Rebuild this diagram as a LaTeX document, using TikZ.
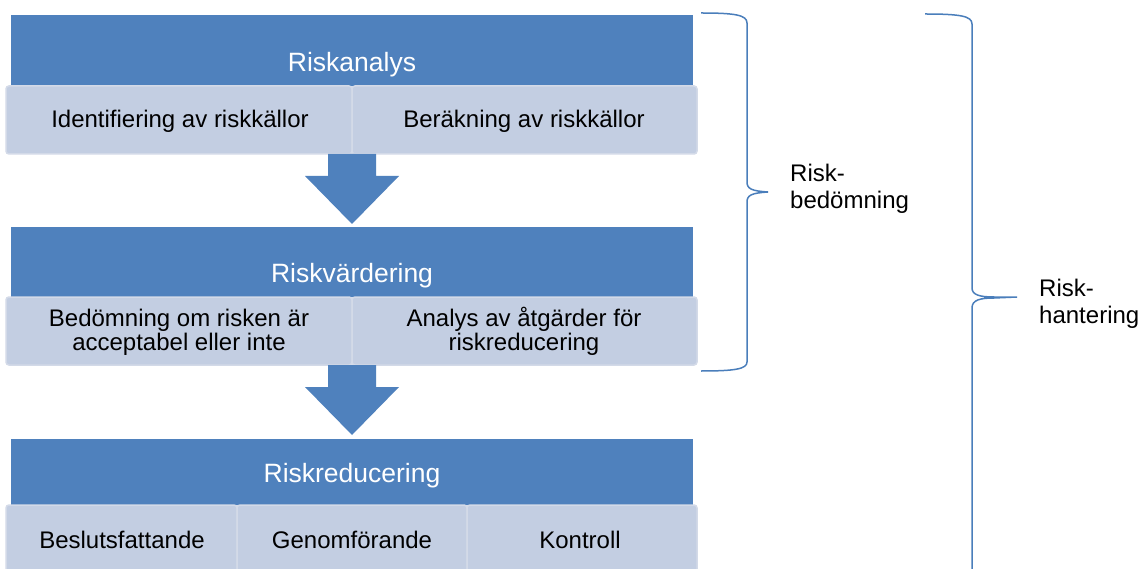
\documentclass[tikz,border=0pt]{standalone}
\usepackage{fontspec}
\setmainfont{Liberation Sans}
\definecolor{dkblue}{HTML}{4F81BD}
\definecolor{ltfill}{HTML}{C3CEE2}
\definecolor{ltline}{HTML}{D3DAE8}
\definecolor{bracecol}{HTML}{4A7EBB}
\begin{document}
\begin{tikzpicture}[x=1pt,y=-1pt,
  band/.style={fill=dkblue, draw=none, inner sep=0, outer sep=0, anchor=north west},
  subbox/.style={fill=ltfill, draw=ltline, line width=1.5pt, rounded corners=3pt, inner sep=0, outer sep=0, anchor=north west, minimum height=68pt},
  titletxt/.style={text=white, font=\fontsize{26.5}{30}\selectfont, anchor=base, inner sep=0},
  subtxt/.style={text=black, font=\fontsize{24}{23.5}\selectfont, anchor=base, inner sep=0, align=center},
  sidetxt/.style={text=black, font=\fontsize{24}{27}\selectfont, anchor=base west, inner sep=0, align=left},
  blockarrow/.style={fill=dkblue, draw=none},
  bracepath/.style={draw=bracecol, line width=1.5pt}
]
\useasboundingbox (0,0) rectangle (1140,569);
\fill[white] (0,0) rectangle (1140,569);

% Stage 1
\node[band, minimum width=682pt, minimum height=71pt] (b1) at (11,15) {};
\node[subbox, minimum width=346pt] (s11) at (6,86) {};
\node[subbox, minimum width=345pt] (s12) at (352,86) {};
\node[titletxt] (t1) at (352,72) {Riskanalys};
\node[subtxt] (u11) at (180,128) {Identifiering av riskkällor};
\node[subtxt] (u12) at (524,128) {Beräkning av riskkällor};

% Arrow 1
\fill[blockarrow] (328,154) -- (376,154) -- (376,176) -- (399,176) -- (352,224) -- (305,176) -- (328,176) -- cycle;

% Stage 2
\node[band, minimum width=682pt, minimum height=70pt] (b2) at (11,227) {};
\node[subbox, minimum width=346pt] (s21) at (6,297) {};
\node[subbox, minimum width=345pt] (s22) at (352,297) {};
\node[titletxt] (t2) at (352,283) {Riskvärdering};
\node[subtxt] (u21) at (179,350) {Bedömning om risken är\\acceptabel eller inte};
\node[subtxt] (u22) at (524,350) {Analys av åtgärder för\\riskreducering};

% Arrow 2
\fill[blockarrow] (328,365) -- (376,365) -- (376,387) -- (399,387) -- (352,435) -- (305,387) -- (328,387) -- cycle;

% Stage 3
\node[band, minimum width=682pt, minimum height=66pt] (b3) at (11,439) {};
\node[subbox, minimum width=231pt, minimum height=80pt] (s31) at (6,505) {};
\node[subbox, minimum width=230pt, minimum height=80pt] (s32) at (237,505) {};
\node[subbox, minimum width=230pt, minimum height=80pt] (s33) at (467,505) {};
\node[titletxt] (t3) at (352,482) {Riskreducering};
\node[subtxt] (u31) at (122,548) {Beslutsfattande};
\node[subtxt] (u32) at (352,548) {Genomförande};
\node[subtxt] (u33) at (580,548) {Kontroll};

% Brace 1
\draw[bracepath] (701,13) .. controls (735,13) and (747,15) .. (747,23)
  -- (747,182) .. controls (747,189) and (752,191) .. (768,192)
  .. controls (752,193) and (747,195) .. (747,202)
  -- (747,362) .. controls (747,369) and (735,371) .. (701,371);
\node[sidetxt] (l1) at (790,209) {Risk-\\bedömning};

% Brace 2
\draw[bracepath] (925,14) .. controls (960,14) and (972,16) .. (972,24)
  -- (972,288) .. controls (972,295) and (980,297) .. (994,297) -- (1017,297)
  -- (994,298) .. controls (980,298) and (972,300) .. (972,308)
  -- (972,590);
\node[sidetxt] (l2) at (1039,323) {Risk-\\hantering};
\end{tikzpicture}
\end{document}
